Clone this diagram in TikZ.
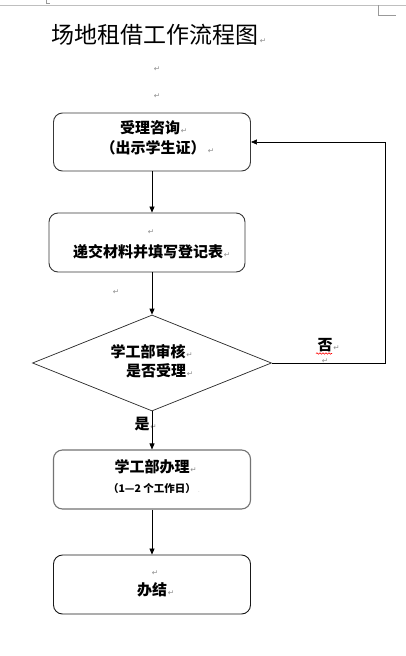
\documentclass[tikz,border=0pt]{standalone}
\usepackage{fontspec}
\newfontfamily\cjk{Noto Sans CJK SC}
\newfontfamily\symf{DejaVu Sans}
\usetikzlibrary{shapes.geometric,arrows.meta,decorations.pathmorphing}
\begin{document}
\begin{tikzpicture}[x=1pt,y=-1pt,
  stepbox/.style={draw=black!78, line width=0.9pt, rounded corners=9pt, minimum width=197pt, minimum height=58pt, inner sep=0pt},
  decbox/.style={diamond, draw=black!85, line width=0.7pt, minimum width=239pt, minimum height=96pt, inner sep=0pt},
  lbl/.style={font=\cjk\bfseries\fontsize{15}{18}\selectfont, inner sep=0pt},
  smalllbl/.style={font=\cjk\bfseries\fontsize{10.5}{12}\selectfont, inner sep=0pt},
  titlelbl/.style={font=\cjk\fontsize{23}{26}\selectfont, inner sep=0pt},
  pmark/.style={font=\symf\fontsize{7.5}{7.5}\selectfont, text=black!45, inner sep=0pt},
  arr/.style={-{Triangle[length=6pt,width=5pt]}, line width=0.7pt, draw=black}
]
\useasboundingbox (0,0) rectangle (406,656);
\fill[white] (0,0) rectangle (406,656);
% page marks
\draw[black!25, line width=0.8pt] (0,5) -- (406,5);
\draw[black!40, line width=0.6pt] (378,5) -- (378,15) -- (396,15);
\draw[black!40, line width=0.8pt] (46,0) -- (46,3) -- (50,3);

% title
\node[titlelbl] (title) at (155,35) {场地租借工作流程图};
\node[pmark, anchor=base west] at ([xshift=1pt]title.base east) {↵};
\node[pmark] (p1) at (157,69) {↵};
\node[pmark] (p2) at (157,96) {↵};

% boxes
\node[stepbox] (b1) at (152,142) {};
\node[stepbox, minimum width=196pt, minimum height=59pt] (b2) at (147,242.5) {};
\node[decbox] (dia) at (152,363) {};
\node[stepbox, minimum height=59pt, draw=black!55, line width=1.1pt] (b3) at (152,479.5) {};
\node[stepbox, minimum height=59pt, draw=black!90] (b4) at (152,584.5) {};

% texts in box 1
\node[lbl] (t1) at (150,128) {受理咨询};
\node[pmark, anchor=base west] at ([xshift=0.5pt]t1.base east) {↵};
\node[lbl] (t2) at (153,148) {（出示学生证）};
\node[pmark, anchor=base west] at ([xshift=2pt]t2.base east) {↵};

% box 2
\node[pmark] (p3) at (151,232) {↵};
\node[lbl] (t3) at (148,252) {递交材料并填写登记表};
\node[pmark, anchor=base west] at ([xshift=0.5pt]t3.base east) {↵};
\node[pmark] (p4) at (116,292) {↵};

% diamond
\node[lbl] (t4) at (148,352) {学工部审核};
\node[pmark, anchor=base west] at ([xshift=0.5pt]t4.base east) {↵};
\node[lbl] (t5) at (156,371) {是否受理};
\node[pmark, anchor=base west] at ([xshift=0.5pt]t5.base east) {↵};

% no / yes
\node[lbl] (no) at (325,345) {否};
\node[pmark, anchor=base west] at ([xshift=0.5pt]no.base east) {↵};
\node[pmark] (p5) at (325,361) {↵};
\draw[red, line width=0.6pt, decorate, decoration={snake, amplitude=0.7pt, segment length=3pt}] (316,353.5) -- (332,353.5);
\node[lbl] (yes) at (142,424) {是};
\node[pmark, anchor=base west] at ([xshift=0.5pt]yes.base east) {↵};

% box 3
\node[lbl] (t6) at (152,467) {学工部办理};
\node[pmark, anchor=base west] at ([xshift=0.5pt]t6.base east) {↵};
\node[smalllbl] (t7) at (152,489) {（1—2 个工作日）};
\node[pmark, anchor=base west, font=\symf\fontsize{4}{4}\selectfont] at ([xshift=2pt]t7.base east) {.};

% box 4
\node[pmark] (p6) at (155,573) {↵};
\node[lbl] (t8) at (152,590) {办结};
\node[pmark, anchor=base west] at ([xshift=0.5pt]t8.base east) {↵};

% connectors
\coordinate (loop) at (385,142);
\draw[arr] (b1.south) -- (b1.south |- b2.north);
\draw[arr] (b2.south -| dia.north) -- (dia.north);
\draw[arr] (dia.south) -- (b3.north);
\draw[arr] (b3.south) -- (b4.north);
\draw[arr] (dia.east) -| (loop) -- (b1.east);
\end{tikzpicture}
\end{document}
